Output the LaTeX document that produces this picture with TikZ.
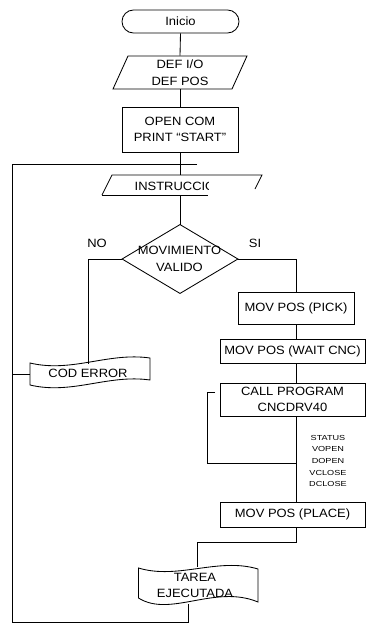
\documentclass[tikz,border=0pt]{standalone}
\usepackage{fontspec}
\setmainfont{Liberation Sans}[FakeStretch=1.08]
\newfontfamily\smallfont{Liberation Sans}[FakeStretch=1.25]
\begin{document}
\begin{tikzpicture}[x=1pt,y=-1pt,line width=0.85pt,
  box/.style={draw,inner sep=0pt,align=center,font=\fontsize{12}{15.5}\selectfont},
  lbl/.style={inner sep=0pt,align=center,font=\fontsize{12}{16.5}\selectfont},
  ghost/.style={inner sep=0pt}]
\useasboundingbox (0,0) rectangle (366,624);

% start
\node[box,rounded corners=11.5pt,minimum width=117pt,minimum height=23pt] (inicio) at (180.5,21.5) {Inicio};

% DEF parallelogram
\node[lbl,minimum height=33pt,minimum width=119pt] (def) at (180,72.5) {DEF I/O\\DEF POS};
\draw (128,56) -- (247,56) -- (232,89) -- (113,89) -- cycle;

% OPEN COM
\node[box,minimum width=116pt,minimum height=45pt] (open) at (180,129.5) {OPEN COM\\PRINT “START”};

% INSTRUCCIO (partly hidden)
\node[ghost,minimum height=20pt,minimum width=150pt] (instr) at (180,185) {};
\draw (102,195) -- (112,175) -- (262,175) -- (255,189);
\draw (102,195) -- (208,195);
\begin{scope}
  \clip (100,170) rectangle (208,200);
  \node[lbl] (instrtxt) at (175,186.5) {INSTRUCCIO};
\end{scope}

% decision
\node[ghost,minimum width=115pt,minimum height=68pt] (dec) at (180,259) {};
\draw (dec.north) -- (dec.east) -- (dec.south) -- (dec.west) -- cycle;
\node[lbl,font=\fontsize{12}{17}\selectfont] (dectxt) at (179.5,258.5) {MOVIMIENTO\\VALIDO};
\node[lbl] (no) at (97,243) {NO};
\node[lbl] (si) at (255,243) {SI};

% COD ERROR tape
\draw (30,363) .. controls (72,373) and (108,352) .. (150,358) -- (150,380)
  .. controls (108,374) and (72,395) .. (30,385) -- cycle;
\node[ghost,minimum width=120pt,minimum height=22pt] (cod) at (90,374) {};
\node[lbl] (codtxt) at (88,373.5) {COD ERROR};

% right column
\node[box,minimum width=116pt,minimum height=32pt] (pick) at (296,308) {MOV POS (PICK)};
\node[box,minimum width=145pt,minimum height=24pt] (wait) at (292.5,351) {MOV POS (WAIT CNC)};
\node[box,minimum width=145pt,minimum height=33pt] (call) at (292.5,399.5) {CALL PROGRAM\\CNCDRV40};
\node[box,minimum width=145pt,minimum height=25pt] (place) at (292.5,514.5) {MOV POS (PLACE)};
\node[inner sep=0pt,align=center,font=\smallfont\fontsize{7.3}{11.7}\selectfont] (stat) at (328,461)
  {STATUS\\VOPEN\\DOPEN\\VCLOSE\\DCLOSE};

% TAREA tape
\draw (138.5,568) .. controls (178,580) and (218,557) .. (258,569) -- (258,602)
  .. controls (215,584) and (170,618) .. (138.5,598) -- cycle;
\node[lbl,font=\fontsize{12}{16}\selectfont] (tarea) at (195,585) {TAREA\\EJECUTADA};

% coordinates
\coordinate (L1) at (12,164);
\coordinate (L2) at (197,164);
\coordinate (Lcod) at (12,374);
\coordinate (Lb) at (12,622.5);
\coordinate (Lc) at (188,622.5);
\coordinate (tbot) at (188,604);
\coordinate (nL) at (88,259);
\coordinate (codin) at (88,364);
\coordinate (nR) at (296,259);
\coordinate (t1) at (296,339);
\coordinate (t2) at (296,363);
\coordinate (t3) at (296,383);
\coordinate (t4) at (296,416);
\coordinate (t5) at (296,502);
\coordinate (t6) at (296,527);
\coordinate (k1) at (215,392);
\coordinate (k2) at (207,392);
\coordinate (k3) at (207,463);
\coordinate (k4) at (296,463);
\coordinate (p1) at (296,542);
\coordinate (p2) at (197,542);
\coordinate (tin) at (197,567);

% connectors
\draw (inicio.south) -- (def.north);
\draw (def.south) -- (open.north);
\draw (open.south) -- (instr.north);
\draw (instr.south) -- (dec.north);
\draw (L2) -- (L1) -- (Lb) -- (Lc) -- (tbot);
\draw (Lcod) -- (cod.west);
\draw (dec.west) -- (nL) -- (codin);
\draw (dec.east) -- (nR) -- (pick.north);
\draw (pick.south) -- (t1);
\draw (t2) -- (t3);
\draw (t4) -- (t5);
\draw (k1) -- (k2) -- (k3) -- (k4);
\draw (t6) -- (p1) -- (p2) -- (tin);
\end{tikzpicture}
\end{document}
